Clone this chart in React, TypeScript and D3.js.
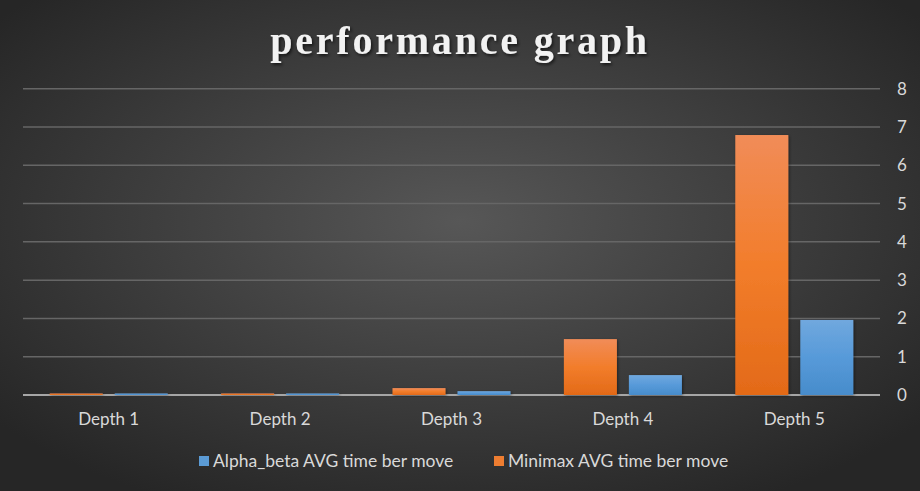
import React from "react";
import * as d3 from "d3";

const categories = ["Depth 1", "Depth 2", "Depth 3", "Depth 4", "Depth 5"];
const minimaxValues = [0.04, 0.04, 0.18, 1.46, 6.79];
const alphaBetaValues = [0.04, 0.04, 0.1, 0.52, 1.96];
const yTicks = [0, 1, 2, 3, 4, 5, 6, 7, 8];
const seriesNames = ["Minimax AVG time ber move", "Alpha_beta AVG time ber move"];
const legendOrder = [1, 0];
const title = "performance graph";

const W = 920;
const H = 491;
const left = 23;
const right = 880;
const top = 88.7;
const bottom = 395;

export default function App() {
  const x0 = d3.scaleBand().domain(categories).range([left, right]).paddingInner(0).paddingOuter(0);
  const y = d3.scaleLinear().domain([0, 8]).range([bottom, top]);
  const bw = 53;
  const gap = 12;
  const series = [minimaxValues, alphaBetaValues];
  const fills = ["url(#gOrange)", "url(#gBlue)"];
  const swatch = ["#ed7d31", "#5b9bd5"];
  const legendX = [199, 494];

  return (
    <svg width={W} height={H} style={{ position: "absolute", left: 0, top: 0, display: "block" }}>
      <defs>
        <radialGradient id="bg" cx="50%" cy="45%" r="65%" fx="50%" fy="45%">
          <stop offset="0%" stopColor="#575757" />
          <stop offset="100%" stopColor="#262626" />
        </radialGradient>
        <linearGradient id="gOrange" x1="0" y1="0" x2="0" y2="1">
          <stop offset="0%" stopColor="#f18c58" />
          <stop offset="50%" stopColor="#f27d2b" />
          <stop offset="100%" stopColor="#e36a18" />
        </linearGradient>
        <linearGradient id="gBlue" x1="0" y1="0" x2="0" y2="1">
          <stop offset="0%" stopColor="#70a8de" />
          <stop offset="50%" stopColor="#579ad9" />
          <stop offset="100%" stopColor="#478ccb" />
        </linearGradient>
        <filter id="shadow" x="-20%" y="-20%" width="140%" height="140%">
          <feDropShadow dx="1" dy="1" stdDeviation="1.5" floodColor="#000" floodOpacity="0.45" />
        </filter>
        <filter id="tshadow" x="-10%" y="-30%" width="120%" height="160%">
          <feDropShadow dx="1.5" dy="2" stdDeviation="1.5" floodColor="#000" floodOpacity="0.6" />
        </filter>
      </defs>
      <rect x={0} y={0} width={W} height={H} fill="url(#bg)" />
      <text
        x={460}
        y={54}
        textAnchor="middle"
        fontFamily="'Liberation Serif', 'Times New Roman', serif"
        fontWeight="bold"
        fontSize={40}
        letterSpacing={2.8}
        fill="#f2f2f2"
        filter="url(#tshadow)"
      >
        {title}
      </text>
      {yTicks.map((t) =>
        t === 0 ? null : (
          <line key={"g" + t} x1={left} x2={right} y1={y(t)} y2={y(t)} stroke="#666666" strokeWidth={1.5} />
        )
      )}
      <line x1={left} x2={right} y1={bottom} y2={bottom} stroke="#a6a6a6" strokeWidth={2} />
      {categories.map((c, i) => {
        const cx = x0(c)! + x0.bandwidth() / 2;
        return series.map((s, k) => {
          const bx = k === 0 ? cx - gap / 2 - bw : cx + gap / 2;
          const yv = y(s[i]);
          return (
            <rect
              key={c + k}
              x={bx}
              y={yv}
              width={bw}
              height={Math.max(bottom - yv, 0.5)}
              fill={fills[k]}
              filter="url(#shadow)"
            />
          );
        });
      })}
      {yTicks.map((t) => (
        <text
          key={"t" + t}
          x={897}
          y={y(t)}
          dy="0.35em"
          fontFamily="Lato, 'Noto Sans', sans-serif"
          fontSize={17}
          fill="#d9d9d9"
        >
          {t}
        </text>
      ))}
      {categories.map((c) => (
        <text
          key={"c" + c}
          x={x0(c)! + x0.bandwidth() / 2}
          y={425}
          textAnchor="middle"
          fontFamily="Lato, 'Noto Sans', sans-serif"
          fontSize={17}
          fill="#d9d9d9"
        >
          {c}
        </text>
      ))}
      {legendOrder.map((k, j) => (
        <g key={"l" + k}>
          <rect x={legendX[j]} y={456} width={10} height={10} fill={swatch[k]} />
          <text
            x={legendX[j] + 14}
            y={467}
            fontFamily="Lato, 'Noto Sans', sans-serif"
            fontSize={17.5}
            fill="#d9d9d9"
          >
            {seriesNames[k]}
          </text>
        </g>
      ))}
    </svg>
  );
}
